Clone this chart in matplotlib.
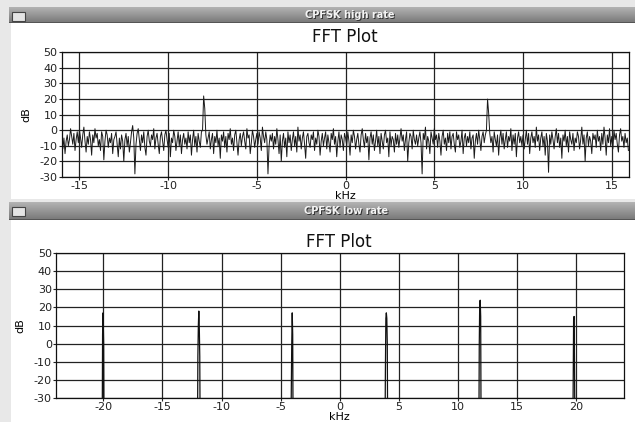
import numpy as np
import matplotlib.pyplot as plt
from matplotlib.patches import Rectangle

plt.rcParams["axes.unicode_minus"] = False

W, H = 635, 422

# top window: CPFSK high rate, 512 bins over -16..16 kHz (dB)
high_db = [
    -8, -12, -5, -15, -7, -3, -10, -6, 1, -4, -9, -2, -13, -6, -1, -8,
    0, -5, -11, -3, 2, -7, -14, -4, -9, -1, -6, -16, -3, -8, 1, -5,
    -2, -10, -6, -13, -1, -4, -19, -7, 0, -3, -11, -5, -8, -2, -15, -6,
    -4, -1, -9, -17, -5, -12, -3, -7, -20, -6, -2, -10, -4, -14, -8, -1,
    3, -5, -28, -9, -2, 1, -6, -13, -3, -8, -1, -11, -16, -4, 0, -7,
    -10, -3, -6, 1, -12, -5, -2, -9, -15, -4, -1, -7, -13, -3, 0, -6,
    -11, -2, -17, -5, -8, 0, -4, -13, -7, -1, -10, -3, -15, -6, -2, -9,
    -5, -12, -1, -8, -3, -16, -6, 0, -10, -4, -14, -2, -7, -11, -1, 0,
    22, 14, -3, -9, -5, -1, -12, -6, -2, -15, -4, -8, 0, -10, -5, -18,
    -3, -7, -1, -11, -4, -14, -2, -6, 1, -9, -5, -13, -3, 0, -8, -16,
    -6, -2, -10, -4, -1, -7, -12, 1, -5, -3, -15, -8, 0, -4, -11, -6,
    -2, -9, -1, -5, -13, 2, -4, -8, -1, -6, -28, -10, -3, -7, -2, -12,
    -4, -9, 1, -6, -15, -3, -20, -7, -2, -11, -5, -17, -1, -8, -3, -13,
    -6, -1, -10, -4, -14, 2, -7, -3, -12, -5, -1, -9, -18, -4, -2, -8,
    -11, -3, -6, -1, -13, -5, -9, 0, -4, -16, -7, -2, -10, -5, -1, -12,
    -3, -8, -14, -2, -6, 1, -9, -4, -17, -7, -1, -11, -3, -6, -13, -2,
    -5, -10, -1, -7, -16, -3, -8, 0, -4, -12, -6, -2, -9, -14, -3, 1,
    -6, -11, -2, -8, -4, -19, -5, -1, -9, -3, -13, -7, 0, -10, -4, -15,
    -2, -7, -12, -3, 0, -8, -5, -17, -1, -10, -4, -6, -14, -2, -9, -3,
    -11, -5, 1, -7, -3, -13, -6, -1, -20, -8, -2, -4, -12, 0, -6, -9,
    -3, -10, -5, -1, -8, -28, -2, -6, 2, -12, -4, -7, -15, -1, -5, -9,
    1, -6, -3, -11, -2, -7, -16, -4, 0, -9, -5, -13, -2, -8, -1, -12,
    -4, -2, -9, -14, -1, -6, -3, -11, -7, 0, -15, -5, -2, -10, -4, -8,
    -1, -12, -5, -3, -18, -7, -2, -9, 0, -6, -13, -4, -1, -8, -3, 0,
    20, 11, -2, -8, -4, -14, -1, -6, -10, -3, -16, -5, 0, -9, -2, -12,
    -6, -1, -11, -4, -7, 1, -13, -3, -9, -2, -17, -5, -1, -8, -4, -10,
    -3, -12, -6, 0, -9, -2, -15, -5, -1, -8, -4, -11, 2, -7, -3, -13,
    -5, -1, -10, -4, -16, -2, -7, -27, -3, -9, -1, -6, -12, -4, 1, -8,
    -2, -11, -5, -18, -3, -7, 0, -10, -4, -14, -1, -6, -9, -2, -13, -5,
    -8, -1, -4, -12, -6, 2, -9, -3, -20, -5, -1, -10, -4, -7, -15, -2,
    -6, -3, -11, 0, -7, -4, -13, -2, -9, 2, -5, -16, -3, -8, 1, -10,
    -4, -12, 0, -6, -2, -9, -14, -3, 1, -7, -4, -11, -2, -8, -5, -13,
]
high_khz = np.linspace(-16, 15.9375, len(high_db))

# bottom window: CPFSK low rate, only the tone bins rise above the floor
low_khz = [-24.0,
           -20.10, -20.06, -20.02, -19.97, -19.93,
           -12.04, -12.00, -11.96, -11.92, -11.88, -11.84, -11.80,
           -4.14, -4.10, -4.06, -4.02, -3.98, -3.94,
           3.82, 3.86, 3.90, 3.94, 3.98, 4.02, 4.06,
           11.76, 11.80, 11.84, 11.88, 11.92, 11.96,
           19.70, 19.74, 19.78, 19.82, 19.86, 19.90,
           24.0]
low_db = [-60,
          -60, 5, 17, 0, -60,
          -60, -7, 10, 18, 9, -7, -60,
          -60, -27, 0, 17, 5, -60,
          -60, -16, 14, 17, 14, 0, -60,
          -60, -1, 23, 24, 15, -60,
          -60, -27, 13, 15, -16, -60,
          -60]

yticks = [-30, -20, -10, 0, 10, 20, 30, 40, 50]
high_xticks = [-15, -10, -5, 0, 5, 10, 15]
low_xticks = [-20, -15, -10, -5, 0, 5, 10, 15, 20]

fig = plt.figure(figsize=(W / 100, H / 100), dpi=100)
fig.patch.set_facecolor("#e8e8e8")

bg = fig.add_axes([0, 0, 1, 1])
bg.axis("off")


def title_bar(y0, y1, text, cx):
    g = np.linspace(0, 1, 20)[:, None]
    top = np.array([0.70, 0.70, 0.70])
    bot = np.array([0.47, 0.47, 0.47])
    img = top + (bot - top) * g[:, :, None]
    img = np.repeat(img, 2, axis=1)
    bg.imshow(img, extent=(9, W, y1, y0), aspect="auto", interpolation="bilinear")
    bg.add_patch(Rectangle((9, y1 - 1), W - 9, 1, fc="#555555", lw=0))
    # window icon
    bg.add_patch(Rectangle((11.5, y0 + 5), 13, 9, fc="#e4e4e4", ec="#444444", lw=0.8))
    bg.text(cx + 0.6, (y0 + y1) / 2 + 0.6, text, color="#333333", fontsize=7,
            fontweight="bold", ha="center", va="center")
    bg.text(cx, (y0 + y1) / 2, text, color="#f4f4f4", fontsize=7,
            fontweight="bold", ha="center", va="center")


bg.add_patch(Rectangle((11, 23), W - 11, 176, fc="white", lw=0))
bg.add_patch(Rectangle((11, 220), W - 11, 202, fc="white", lw=0))
title_bar(7, 23, "CPFSK high rate", 350)
title_bar(202, 220, "CPFSK low rate", 346)
bg.set_xlim(0, W)
bg.set_ylim(H, 0)

bg.text(345, 37, "FFT Plot", fontsize=12, ha="center", va="center", color="#111111")
bg.text(339, 242, "FFT Plot", fontsize=12, ha="center", va="center", color="#111111")


def box(l, r, t, b):
    return [l / W, (H - b) / H, (r - l) / W, (b - t) / H]


def style(ax, xticks):
    ax.set_ylim(-30, 50)
    ax.set_yticks(yticks)
    ax.set_xticks(xticks)
    ax.grid(True, color="#222222", lw=0.9)
    ax.set_axisbelow(True)
    ax.tick_params(labelsize=8, length=2, width=0.8, colors="#222222", pad=1)
    for s in ax.spines.values():
        s.set_color("#111111")
        s.set_linewidth(0.9)
    ax.set_ylabel("dB", fontsize=8, labelpad=6)
    ax.set_xlabel("kHz", fontsize=8, labelpad=0)


ax1 = fig.add_axes(box(61.7, 629.5, 52.3, 177))
ax1.plot(high_khz, high_db, color="#1a1a1a", lw=0.7)
ax1.set_xlim(-16, 16)
style(ax1, high_xticks)

ax2 = fig.add_axes(box(56, 623.5, 253.3, 397.7))
ax2.plot(low_khz, low_db, color="#111111", lw=0.9)
ax2.set_xlim(-24, 24)
style(ax2, low_xticks)

fig.savefig("out.png", dpi=100, facecolor=fig.get_facecolor())
